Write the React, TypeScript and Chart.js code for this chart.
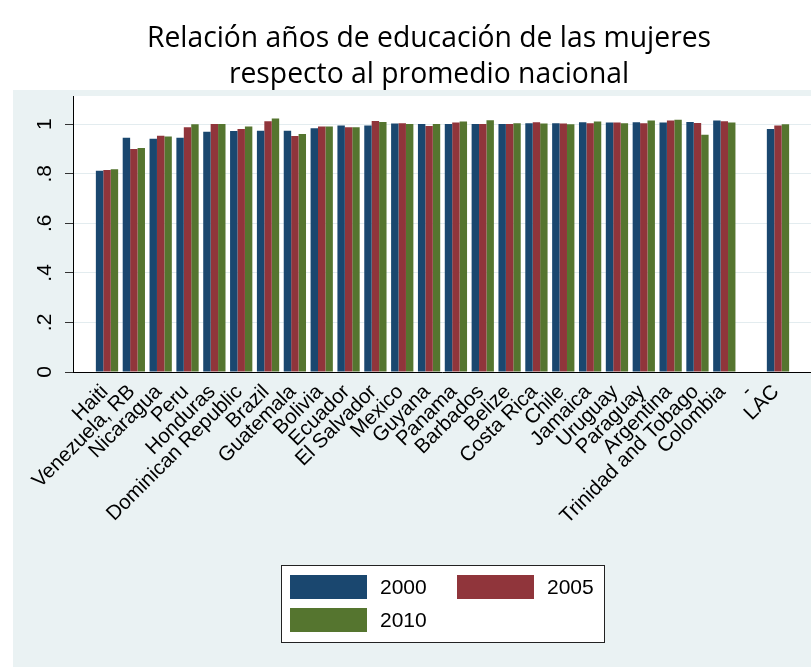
import React, { useEffect, useRef } from 'react';
import { Chart, registerables } from 'chart.js';

Chart.register(...registerables);

// ---- Data ----
const categories = [
  'Haiti', 'Venezuela, RB', 'Nicaragua', 'Peru', 'Honduras', 'Dominican Republic',
  'Brazil', 'Guatemala', 'Bolivia', 'Ecuador', 'El Salvador', 'Mexico', 'Guyana',
  'Panama', 'Barbados', 'Belize', 'Costa Rica', 'Chile', 'Jamaica', 'Uruguay',
  'Paraguay', 'Argentina', 'Trinidad and Tobago', 'Colombia', '-', 'LAC',
];
const seriesLabels = ['2000', '2005', '2010'];
const values2000 = [0.812, 0.945, 0.941, 0.945, 0.970, 0.973, 0.974, 0.974, 0.984, 0.995, 0.995, 1.003, 1.001, 1.001, 1.001, 1.001, 1.004, 1.004, 1.008, 1.007, 1.008, 1.007, 1.009, 1.015, null, 0.981];
const values2005 = [0.815, 0.900, 0.954, 0.988, 1.001, 0.981, 1.012, 0.953, 0.991, 0.988, 1.013, 1.004, 0.993, 1.007, 1.001, 1.001, 1.008, 1.003, 1.004, 1.007, 1.004, 1.015, 1.005, 1.012, null, 0.995];
const values2010 = [0.818, 0.904, 0.951, 1.000, 1.001, 0.991, 1.023, 0.961, 0.991, 0.988, 1.009, 1.001, 1.001, 1.011, 1.016, 1.004, 1.003, 1.000, 1.011, 1.004, 1.015, 1.018, 0.958, 1.007, null, 1.000];
const yTickValues = [0, 0.2, 0.4, 0.6, 0.8, 1];
const yTickLabels = ['0', '.2', '.4', '.6', '.8', '1'];
const titleLines = ['Relación años de educación de las mujeres', 'respecto al promedio nacional'];

const COLORS = ['#1A476F', '#90353B', '#55752F'];
const PANEL = '#EAF2F3';
const W = 811;
const H = 667;

const toPoints = (vals: (number | null)[]) =>
  vals.map((v, i) => (v === null ? null : { x: i, y: v })).filter((p) => p !== null);

const decorPlugin = {
  id: 'decor',
  beforeDraw(chart: any) {
    const { ctx, chartArea } = chart;
    ctx.save();
    ctx.fillStyle = '#ffffff';
    ctx.fillRect(0, 0, chart.width, chart.height);
    ctx.fillStyle = PANEL;
    ctx.fillRect(13, 90, chart.width - 13, chart.height - 90);
    ctx.fillStyle = '#ffffff';
    ctx.fillRect(chartArea.left, chartArea.top, chartArea.right - chartArea.left, chartArea.bottom - chartArea.top);
    ctx.fillStyle = '#000000';
    ctx.font = '28.3px "Open Sans"';
    ctx.textAlign = 'center';
    ctx.textBaseline = 'alphabetic';
    titleLines.forEach((t, i) => ctx.fillText(t, 429, 47 + i * 36));
    ctx.restore();
  },
  afterDraw(chart: any) {
    const { ctx } = chart;
    ctx.save();
    ctx.fillStyle = '#ffffff';
    ctx.fillRect(281, 565, 323, 77);
    ctx.strokeStyle = '#222222';
    ctx.lineWidth = 1;
    ctx.strokeRect(281.5, 565.5, 323, 77);
    const slots = [
      { x: 290, y: 575 },
      { x: 457, y: 575 },
      { x: 290, y: 608 },
    ];
    ctx.font = '21px "Liberation Sans", Arial, sans-serif';
    ctx.textAlign = 'left';
    ctx.textBaseline = 'middle';
    chart.data.datasets.forEach((ds: any, i: number) => {
      const s = slots[i];
      ctx.fillStyle = ds.backgroundColor;
      ctx.fillRect(s.x, s.y, 77, 24);
      ctx.fillStyle = '#000000';
      ctx.fillText(ds.label, s.x + 90, s.y + 13);
    });
    ctx.restore();
  },
};

export default function App() {
  const ref = useRef<HTMLCanvasElement | null>(null);

  useEffect(() => {
    document.body.style.margin = '0';
    if (!ref.current) return;
    Chart.defaults.font.family = '"Liberation Sans", Arial, sans-serif';
    const datasets = [values2000, values2005, values2010].map((vals, i) => ({
      label: seriesLabels[i],
      data: toPoints(vals),
      backgroundColor: COLORS[i],
      borderWidth: 0,
      barPercentage: 1,
      categoryPercentage: 0.83,
    }));
    const chart = new Chart(ref.current, {
      type: 'bar',
      data: { datasets } as any,
      plugins: [decorPlugin],
      options: {
        responsive: false,
        animation: false,
        layout: { padding: { top: 96, left: 0, right: 0, bottom: 0 } },
        plugins: {
          legend: { display: false },
          title: { display: false },
          tooltip: { enabled: false },
        },
        scales: {
          x: {
            type: 'linear',
            offset: false,
            min: -1.267,
            max: 26.23,
            afterBuildTicks: (scale: any) => {
              scale.ticks = categories.map((_, i) => ({ value: i }));
            },
            afterFit: (scale: any) => {
              scale.height = H - 372;
            },
            grid: { display: false, drawTicks: false, offset: false },
            border: { display: true, color: '#000000', width: 1 },
            ticks: {
              autoSkip: false,
              minRotation: 45,
              maxRotation: 45,
              padding: 8,
              labelOffset: -2,
              color: '#000000',
              font: { size: 20.5 },
              callback: (v: any) => categories[v] ?? '',
            },
          },
          y: {
            min: 0,
            max: 1.114,
            afterBuildTicks: (scale: any) => {
              scale.ticks = yTickValues.map((v) => ({ value: v }));
            },
            afterFit: (scale: any) => {
              scale.width = 73;
            },
            grid: { color: '#E3ECEF', lineWidth: 1, tickLength: 8, tickColor: '#333333' },
            border: { display: true, color: '#000000', width: 1 },
            ticks: {
              minRotation: 90,
              maxRotation: 90,
              crossAlign: 'center',
              padding: 11,
              color: '#000000',
              font: { size: 21 },
              callback: (v: any) => {
                const idx = yTickValues.findIndex((t) => Math.abs(t - v) < 1e-9);
                return idx >= 0 ? yTickLabels[idx] : '';
              },
            },
          },
        },
      } as any,
    });
    return () => chart.destroy();
  }, []);

  return (
    <div style={{ width: W, height: H }}>
      <canvas ref={ref} width={W} height={H} style={{ display: 'block', width: W, height: H }} />
    </div>
  );
}
